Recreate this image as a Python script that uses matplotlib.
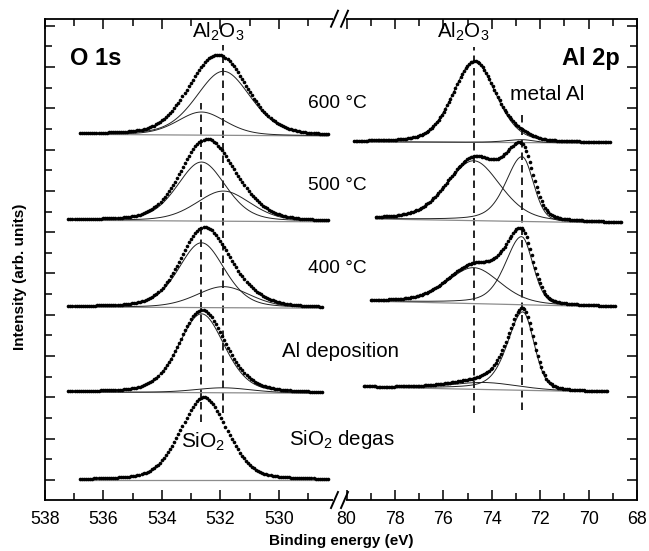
import numpy as np
import matplotlib
matplotlib.use("Agg")
import matplotlib.pyplot as plt
from matplotlib.lines import Line2D
from matplotlib.patches import Rectangle

plt.rcParams['font.family'] = ['Liberation Sans', 'DejaVu Sans']
plt.rcParams['mathtext.fontset'] = 'custom'
plt.rcParams['mathtext.rm'] = 'Liberation Sans'
plt.rcParams['mathtext.it'] = 'Liberation Sans:italic'
plt.rcParams['mathtext.bf'] = 'Liberation Sans:bold'

# ---------------- data ----------------
# O 1s spectra, bottom to top
o_names = ['SiO2 degas', 'Al deposition', '400 C', '500 C', '600 C']
o_offset = [0.00, 2.10, 4.16, 6.25, 8.33]
o_start = [536.8, 537.2, 537.2, 537.2, 536.8]
o_end = [528.3, 528.5, 528.5, 528.3, 528.3]
o_bg_step = [0.00, 0.03, 0.03, 0.04, 0.04]
# component A: SiO2 (532.65 eV), component B: Al2O3 (531.9 eV)
o_A_center = [532.57, 532.65, 532.65, 532.65, 532.65]
o_A_height = [2.00, 1.91, 1.57, 1.43, 0.56]
o_A_fwhm = [1.90, 1.85, 1.85, 1.95, 1.95]
o_B_center = [531.9, 531.9, 531.9, 531.9, 531.9]
o_B_height = [0.00, 0.12, 0.51, 0.73, 1.55]
o_B_fwhm = [2.2, 2.3, 2.2, 2.2, 2.2]

# Al 2p spectra, bottom to top (Al deposition, 400, 500, 600)
al_offset = [2.13, 4.19, 6.22, 8.16]
al_start = [79.3, 79.0, 78.8, 79.7]
al_end = [69.2, 68.9, 68.65, 69.1]
al_bg_step = [0.12, 0.14, 0.10, 0.03]
# oxide component
al_ox_center = [74.3, 74.75, 74.75, 74.72]
al_ox_height = [0.17, 0.87, 1.45, 1.96]
al_ox_fwhm = [3.3, 2.6, 2.6, 2.1]
# metal component (asymmetric)
al_m_center = [72.72, 72.77, 72.75, 72.75]
al_m_height = [1.90, 1.65, 1.57, 0.07]
al_m_hw_left = [0.75, 0.80, 0.80, 0.80]
al_m_hw_right = [0.55, 0.55, 0.55, 0.55]

o_ticks_major = [538, 536, 534, 532, 530]
o_ticks_minor = [537, 535, 533, 531, 529]
al_ticks_major = [80, 78, 76, 74, 72, 70, 68]
al_ticks_minor = [79, 77, 75, 73, 71, 69]

o_dash = [(532.65, 1.40, 9.13), (531.9, 1.62, 10.53)]
al_dash = [(74.75, 1.62, 10.48), (72.75, 1.69, 8.89)]

MIX = 0.30


def pv(x, c, h, hwl, hwr, ml=MIX, mr=MIX):
    left = x > c
    w = np.where(left, hwl, hwr)
    m = np.where(left, ml, mr)
    u = (x - c) / w
    return h * ((1 - m) * np.exp(-np.log(2) * u ** 2) + m / (1 + u ** 2))


# ---------------- figure ----------------
W, Hp = 649, 551
fig = plt.figure(figsize=(W / 100, Hp / 100), dpi=100)

X0, XB, X1 = 45, 340, 637
Y0, Y1 = 500, 18.7
b = (Hp - Y0) / Hp
h = (Y0 - Y1) / Hp
ax1 = fig.add_axes([X0 / W, b, (XB - X0) / W, h])
ax2 = fig.add_axes([XB / W, b, (X1 - XB) / W, h])

o_px = 29.25
al_px = 24.2
ax1.set_xlim(538, 538 - (XB - X0) / o_px)
ax2.set_xlim(68 + (X1 - XB) / al_px, 68)
for ax in (ax1, ax2):
    ax.set_ylim(-0.485, 11.17)

STEP = 0.07
MS = 2.6

# O 1s
for i in range(5):
    x = np.arange(o_start[i], o_end[i] - 1e-6, -STEP)
    base = o_offset[i] + o_bg_step[i] * (x - o_end[i]) / (o_start[i] - o_end[i])
    ca = pv(x, o_A_center[i], o_A_height[i], o_A_fwhm[i] / 2, o_A_fwhm[i] / 2)
    cb = pv(x, o_B_center[i], o_B_height[i], o_B_fwhm[i] / 2, o_B_fwhm[i] / 2)
    ax1.plot(x, base, color='#8c8c8c', lw=0.9, zorder=2)
    if i > 0:
        ax1.plot(x, base + ca, color='#222222', lw=0.7, zorder=3)
        ax1.plot(x, base + cb, color='#222222', lw=0.7, zorder=3)
    ax1.plot(x, base + ca + cb, 'o', color='black', ms=MS, mew=0, zorder=4)

# Al 2p
for i in range(4):
    x = np.arange(al_start[i], al_end[i] - 1e-6, -STEP)
    base = al_offset[i] + al_bg_step[i] * (x - al_end[i]) / (al_start[i] - al_end[i])
    co = pv(x, al_ox_center[i], al_ox_height[i], al_ox_fwhm[i] / 2, al_ox_fwhm[i] / 2)
    cm = pv(x, al_m_center[i], al_m_height[i], al_m_hw_left[i], al_m_hw_right[i],
            ml=0.45, mr=0.2)
    ax2.plot(x, base, color='#8c8c8c', lw=0.9, zorder=2)
    ax2.plot(x, base + co, color='#222222', lw=0.7, zorder=3)
    ax2.plot(x, base + cm, color='#222222', lw=0.7, zorder=3)
    ax2.plot(x, base + co + cm, 'o', color='black', ms=MS, mew=0, zorder=4)

for xv, y0, y1 in o_dash:
    ax1.plot([xv, xv], [y0, y1], color='black', lw=1.2, dashes=(4.5, 3), zorder=1)
for xv, y0, y1 in al_dash:
    ax2.plot([xv, xv], [y0, y1], color='black', lw=1.2, dashes=(4.5, 3), zorder=1)

# ticks & spines
yt_major = np.arange(0, 12, 1)
yt_minor = np.arange(0.5, 11, 1)
ax1.set_xticks(o_ticks_major)
ax1.set_xticks(o_ticks_minor, minor=True)
ax2.set_xticks(al_ticks_major)
ax2.set_xticks(al_ticks_minor, minor=True)
for ax in (ax1, ax2):
    ax.set_yticks(yt_major)
    ax.set_yticks(yt_minor, minor=True)
    ax.set_yticklabels([])
    for s in ax.spines.values():
        s.set_linewidth(1.3)
    ax.tick_params(which='both', direction='in', width=1.1, labelsize=12.8, pad=8)
    ax.tick_params(which='major', length=7.5)
    ax.tick_params(which='minor', length=5)
ax1.spines['right'].set_visible(False)
ax2.spines['left'].set_visible(False)
ax1.tick_params(which='both', left=True, right=False, top=True, bottom=True)
ax2.tick_params(which='both', left=False, right=True, top=True, bottom=True,
                labelleft=False, labelright=False)
ax1.set_xticklabels([str(t) for t in o_ticks_major])
ax2.set_xticklabels([str(t) for t in al_ticks_major])


def fx(px):
    return px / W


def fy(py):
    return 1 - py / Hp


# axis break marks
for ypix in (Y1, Y0):
    fig.add_artist(Rectangle((fx(333), fy(ypix + 2)), (346 - 333) / W, 4 / Hp,
                             transform=fig.transFigure, facecolor='white',
                             edgecolor='none', zorder=10))
    for xs in (331, 341):
        fig.add_artist(Line2D([fx(xs), fx(xs + 7)], [fy(ypix + 8), fy(ypix - 8)],
                              transform=fig.transFigure, color='black', lw=1.4,
                              zorder=11))

# texts
fig.text(fx(70), fy(65), 'O 1s', fontsize=17, fontweight='bold', va='baseline', ha='left')
fig.text(fx(620), fy(65), 'Al 2p', fontsize=17, fontweight='bold', va='baseline', ha='right')
fig.text(fx(218), fy(38), r'$\mathregular{Al_2O_3}$', fontsize=14.8, ha='center', va='baseline')
fig.text(fx(463), fy(38), r'$\mathregular{Al_2O_3}$', fontsize=14.8, ha='center', va='baseline')
fig.text(fx(547), fy(100), 'metal Al', fontsize=15, ha='center', va='baseline')
fig.text(fx(337), fy(108), '600 °C', fontsize=13.8, ha='center', va='baseline')
fig.text(fx(337), fy(190), '500 °C', fontsize=13.8, ha='center', va='baseline')
fig.text(fx(337), fy(273), '400 °C', fontsize=13.8, ha='center', va='baseline')
fig.text(fx(341), fy(357), 'Al deposition', fontsize=14.8, ha='center', va='baseline')
fig.text(fx(342), fy(445), r'$\mathregular{SiO_2}$ degas', fontsize=14.8, ha='center', va='baseline')
fig.text(fx(203), fy(448), r'$\mathregular{SiO_2}$', fontsize=15, ha='center', va='baseline')

fig.text(fx(341), fy(541), 'Binding energy (eV)', fontsize=11, fontweight='bold',
         ha='center', va='center')
fig.text(fx(20), fy(277), 'Intensity (arb. units)', fontsize=11, fontweight='bold',
         ha='center', va='center', rotation=90)

fig.savefig('out.png', dpi=100)
